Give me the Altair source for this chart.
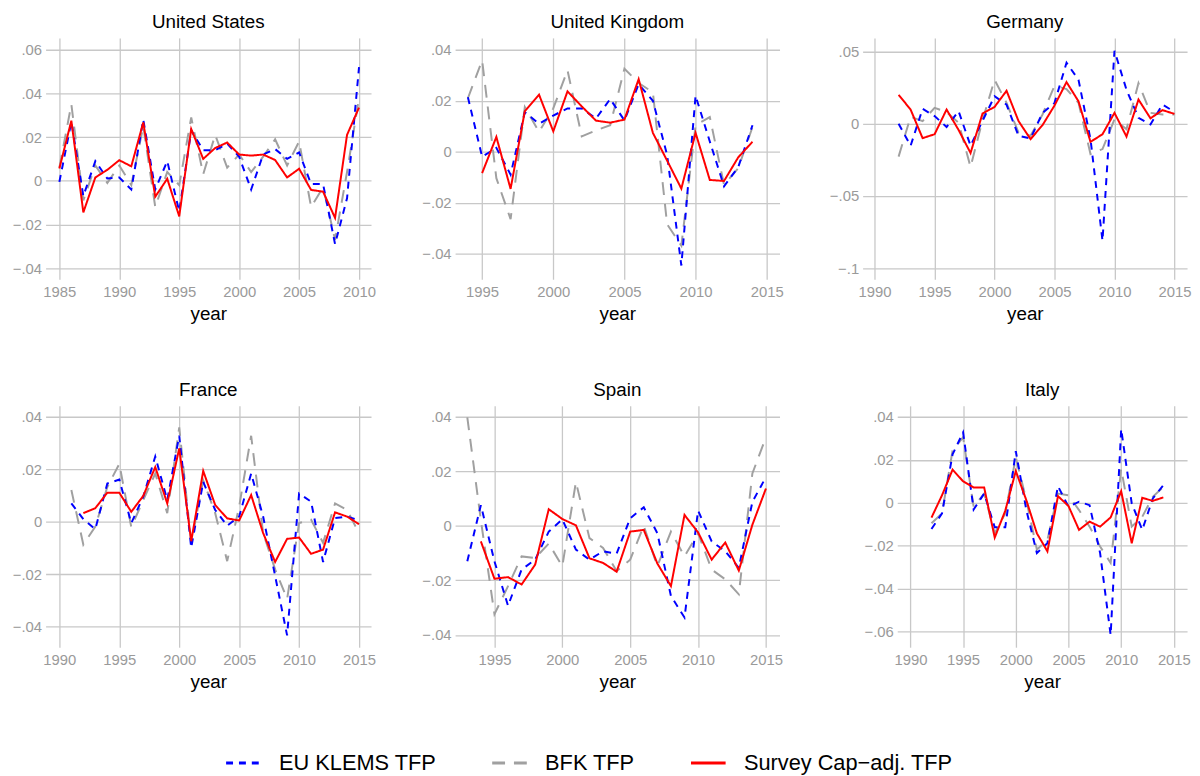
import altair as alt
import pandas as pd

SERIES = ["EU KLEMS TFP", "BFK TFP", "Survey Cap−adj. TFP"]
COLORS = ["#0000FF", "#A0A0A0", "#FF0000"]
DASHES = [[7, 6], [13, 9], [1, 0]]
DRAW_ORDER = ["BFK TFP", "EU KLEMS TFP", "Survey Cap−adj. TFP"]

# ---------------- data ----------------
US_years = list(range(1985, 2011))
US_klems = [-0.0005, 0.027, -0.007, 0.009, 0.001, 0.0015, -0.004, 0.028, -0.004, 0.009, -0.014, 0.023, 0.014,
            0.014, 0.017, 0.011, -0.004, 0.012, 0.0145, 0.010, 0.013, -0.0015, -0.0015, -0.029, -0.008, 0.052]
US_bfk = [0.006, 0.035, -0.009, 0.007, -0.001, 0.007, -0.002, 0.025, -0.012, 0.004, -0.002, 0.029, 0.003,
          0.021, 0.006, 0.012, 0.004, 0.011, 0.019, 0.007, 0.018, -0.012, -0.003, -0.027, 0.004, 0.038]
US_survey = [0.0056, 0.0275, -0.0145, 0.0015, 0.005, 0.0094, 0.0066, 0.0267, -0.0073, 0.0009, -0.0163, 0.0237, 0.010,
             0.015, 0.0175, 0.012, 0.0115, 0.012, 0.0095, 0.0015, 0.0055, -0.0042, -0.005, -0.017, 0.021, 0.0335]

UK_years = list(range(1994, 2015))
UK_klems = [0.0214, -0.002, 0.0015, -0.009, 0.0155, 0.011, 0.0142, 0.017, 0.017, 0.013, 0.0207, 0.0123, 0.0265,
            0.020, -0.0013, -0.0447, 0.022, 0.004, -0.0136, -0.006, 0.0104]
UK_bfk = [0.021, 0.0359, -0.0104, -0.0265, 0.0175, 0.0078, 0.017, 0.032, 0.006, 0.0084, 0.0104, 0.0326, 0.027,
          0.0233, -0.0285, -0.0369, 0.0104, 0.0136, -0.013, -0.0065, 0.0097]
UK_survey = [None, -0.0084, 0.0058, -0.0146, 0.0159, 0.0224, 0.008, 0.0237, 0.0178, 0.0122, 0.0114, 0.0126, 0.0285,
             0.0074, -0.0035, -0.0145, 0.0074, -0.0111, -0.0115, -0.0022, 0.0039]

DE_years = list(range(1992, 2016))
DE_klems = [0.0, -0.0153, 0.0103, 0.0053, -0.0023, 0.0087, -0.0153, 0.002, 0.019, 0.0132, -0.0084, -0.0103, 0.0075,
            0.0144, 0.0422, 0.0304, -0.0107, -0.081, 0.0505, 0.0235, 0.0041, -0.0005, 0.0132, 0.0082]
DE_bfk = [-0.0228, 0.0048, 0.0018, 0.011, 0.008, 0.0007, -0.030, 0.0025, 0.0304, 0.0144, -0.0062, -0.0084, 0.0064,
          0.0263, 0.024, 0.0144, -0.021, -0.0176, 0.003, -0.0039, 0.0281, 0.0075, 0.0064, 0.0064]
DE_survey = [0.020, 0.0098, -0.010, -0.0073, 0.0098, -0.0043, -0.0203, 0.0071, 0.0116, 0.0228, 0.0018, -0.0107,
             -0.001, 0.0126, 0.0288, 0.0155, -0.0126, -0.0073, 0.0075, -0.0089, 0.0167, 0.0037, 0.0094, 0.0068]

FR_years = list(range(1991, 2016))
FR_klems = [0.007, 0.001, -0.0028, 0.0146, 0.0161, -0.0005, 0.0096, 0.0249, 0.0083, 0.0328, -0.0099, 0.0152, 0.0045,
            -0.0015, 0.002, 0.0184, 0.002, -0.0206, -0.0433, 0.0108, 0.0077, -0.0153, 0.0014, 0.002, 0.0005]
FR_bfk = [0.0121, -0.0087, -0.0018, 0.0133, 0.0221, -0.002, 0.0083, 0.0184, 0.0033, 0.036, -0.008, 0.0158, 0.0033,
          -0.015, 0.0058, 0.0328, -0.0043, -0.0181, -0.0294, -0.0005, 0.0008, -0.008, 0.007, 0.0045, -0.0043]
FR_survey = [None, 0.0033, 0.0052, 0.0111, 0.0111, 0.0038, 0.0099, 0.0209, 0.007, 0.028, -0.0074, 0.0194, 0.0064,
             0.0013, 0.0005, 0.0102, -0.0043, -0.0153, -0.0065, -0.006, -0.0122, -0.0106, 0.0036, 0.002, -0.0009]

ES_years = list(range(1993, 2016))
ES_klems = [-0.013, 0.0076, -0.013, -0.0293, -0.016, -0.0124, -0.0021, 0.0024, -0.0087, -0.0124, -0.0093, -0.0102,
            0.0028, 0.0068, -0.0027, -0.0257, -0.0336, 0.0056, -0.0057, -0.0093, -0.0154, 0.0088, 0.0179]
ES_bfk = [0.0398, 0.002, -0.0324, -0.0221, -0.0112, -0.0118, -0.0065, -0.0148, 0.0161, -0.0045, -0.0081, -0.0166,
          -0.0124, 0.0, -0.0148, -0.0021, -0.0112, -0.0027, -0.016, -0.0196, -0.0251, 0.0192, 0.0325]
ES_survey = [None, -0.0057, -0.0194, -0.0188, -0.0215, -0.0142, 0.0061, 0.0025, 0.0002, -0.0119, -0.0136, -0.0168,
             -0.0021, -0.0015, -0.0138, -0.0221, 0.004, -0.0024, -0.0124, -0.0061, -0.0164, 0.0004, 0.0137]

IT_years = list(range(1992, 2015))
IT_klems = [-0.0122, -0.0049, 0.0225, 0.0328, -0.0031, 0.0043, -0.0114, -0.0114, 0.024, -0.0034, -0.0234, -0.0188,
            0.0077, -0.0018, 0.0005, -0.0011, -0.0234, -0.0615, 0.0343, -0.0003, -0.0126, 0.002, 0.0082]
IT_bfk = [-0.0095, -0.0049, 0.0243, 0.0305, -0.0018, 0.0043, -0.0142, -0.0049, 0.0212, 0.0012, -0.0218, -0.0172,
          0.0043, 0.0035, -0.0034, -0.0111, -0.0203, -0.028, 0.0158, -0.0111, -0.0065, 0.0028, 0.0074]
IT_survey = [-0.0069, 0.0035, 0.0154, 0.01, 0.0071, 0.0071, -0.0162, -0.0037, 0.0148, 0.0012, -0.0142, -0.0226,
             0.0031, -0.0015, -0.0126, -0.0088, -0.0111, -0.0068, 0.0054, -0.0188, 0.0023, 0.0009, 0.0025]

FONT = "Liberation Sans"
GRID = "#C8C8C8"
TICKLABEL = "#9A9A9A"

LEGEND = alt.Legend(
    orient="none", legendX=181, legendY=714, direction="horizontal", title=None,
    symbolType="stroke", symbolSize=1225, symbolStrokeWidth=3,
    labelFontSize=22, labelFont=FONT, labelColor="black", labelOffset=17,
    columnPadding=50, padding=0, labelLimit=400,
)


def panel(name, years, klems, bfk, survey, xdom, ydom, xvals, yvals, width, yext=37):
    rows = []
    for s, vals in zip(SERIES, [klems, bfk, survey]):
        for yr, v in zip(years, vals):
            if v is not None:
                rows.append({"year": yr, "tfp": v, "series": s})
    df = pd.DataFrame(rows)
    base = alt.Chart(df).mark_line(strokeWidth=2).encode(
        x=alt.X("year:Q", scale=alt.Scale(domain=xdom, nice=False, zero=False),
                axis=alt.Axis(values=xvals, format="d", title="year", grid=True, ticks=False, domain=False,
                              labelFlush=False, labelPadding=5, titlePadding=6)),
        y=alt.Y("tfp:Q", scale=alt.Scale(domain=ydom, nice=False, zero=False),
                axis=alt.Axis(values=yvals, title=None, grid=True, ticks=False, domain=False, labelPadding=4,
                              minExtent=yext, maxExtent=yext,
                              labelExpr="datum.value == 0 ? '0' : replace(format(datum.value, '~g'), '0.', '.')")),
        color=alt.Color("series:N", scale=alt.Scale(domain=SERIES, range=COLORS), legend=LEGEND),
        strokeDash=alt.StrokeDash("series:N", scale=alt.Scale(domain=SERIES, range=DASHES), legend=LEGEND),
    )
    layers = [base.transform_filter(alt.datum.series == s) for s in DRAW_ORDER]
    return alt.layer(*layers).properties(
        width=width, height=244,
        title=alt.TitleParams(name, fontSize=19, font=FONT, fontWeight="normal", color="black",
                              anchor="middle", offset=6),
    )


us = panel("United States", US_years, US_klems, US_bfk, US_survey, [1983.85, 2011.0], [-0.0451, 0.0654],
           [1985, 1990, 1995, 2000, 2005, 2010], [-0.04, -0.02, 0, 0.02, 0.04, 0.06], 329)
uk = panel("United Kingdom", UK_years, UK_klems, UK_bfk, UK_survey, [1993.1, 2015.9], [-0.0501, 0.0447],
           [1995, 2000, 2005, 2010, 2015], [-0.04, -0.02, 0, 0.02, 0.04], 328)
de = panel("Germany", DE_years, DE_klems, DE_bfk, DE_survey, [1989.0, 2016.05], [-0.1077, 0.0594],
           [1990, 1995, 2000, 2005, 2010, 2015], [-0.1, -0.05, 0, 0.05], 328)
fr = panel("France", FR_years, FR_klems, FR_bfk, FR_survey, [1988.85, 2016.0], [-0.0478, 0.0442],
           [1990, 1995, 2000, 2005, 2010, 2015], [-0.04, -0.02, 0, 0.02, 0.04], 329)
es = panel("Spain", ES_years, ES_klems, ES_bfk, ES_survey, [1992.1, 2016.0], [-0.0445, 0.044],
           [1995, 2000, 2005, 2010, 2015], [-0.04, -0.02, 0, 0.02, 0.04], 328)
it = panel("Italy", IT_years, IT_klems, IT_bfk, IT_survey, [1988.75, 2016.25], [-0.0672, 0.0451],
           [1990, 1995, 2000, 2005, 2010, 2015], [-0.06, -0.04, -0.02, 0, 0.02, 0.04], 293, yext=73)

RES = dict(x="independent", y="independent", color="shared", strokeDash="shared")
row1 = alt.hconcat(us, uk, de, spacing=41).resolve_scale(**RES)
row2 = alt.hconcat(fr, es, it, spacing=41).resolve_scale(**RES)

chart = alt.vconcat(row1, row2, spacing=56).resolve_scale(
    color="shared", strokeDash="shared"
).properties(
    padding={"left": 0, "top": 0, "right": 0, "bottom": 0}
).configure_view(
    stroke="transparent"
).configure_axis(
    labelFont=FONT, labelFontSize=15, labelColor=TICKLABEL,
    titleFont=FONT, titleFontSize=19, titleColor="black", titleFontWeight="normal",
    gridColor=GRID, gridWidth=1.3,
)

chart.save("out.html", embed_options={"renderer": "svg", "actions": False})
